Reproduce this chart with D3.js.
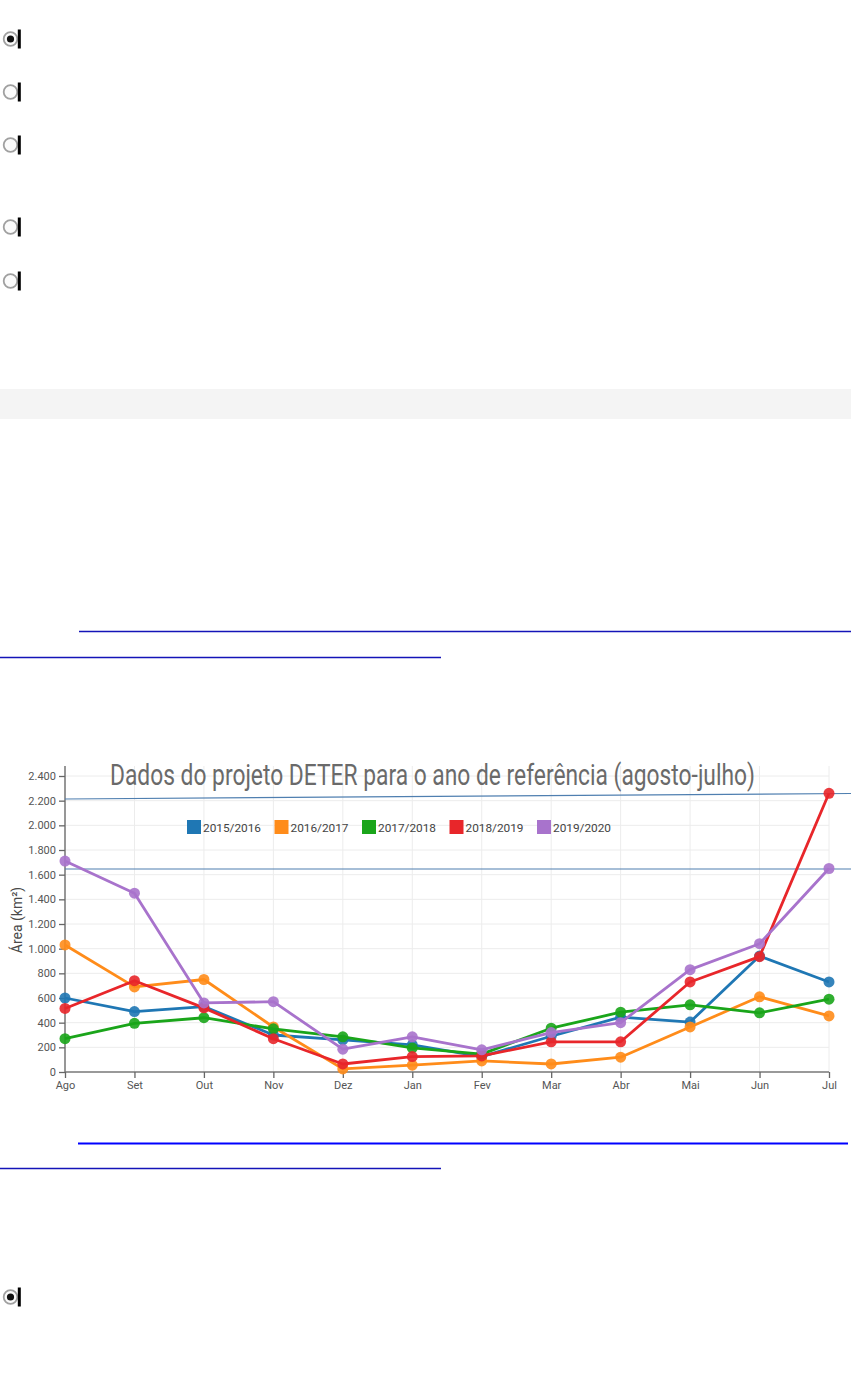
<!DOCTYPE html>
<html><head><meta charset="utf-8">
<script src="https://cdn.jsdelivr.net/npm/d3@7"></script>
<style>html,body{margin:0;padding:0;background:#fff;}svg{display:block;}</style>
</head><body>
<svg id="page" width="851" height="1390"></svg>
<script>
const months = ["Ago","Set","Out","Nov","Dez","Jan","Fev","Mar","Abr","Mai","Jun","Jul"];
const seriesNames = ["2015/2016","2016/2017","2017/2018","2018/2019","2019/2020"];
const seriesColors = ["#1f77b4","#ff8c1a","#1aa51a","#e8262a","#a873cc"];
const s2015 = [600,490,530,300,260,220,125,290,445,405,940,730];
const s2016 = [1030,690,750,365,25,55,90,65,120,365,610,455];
const s2017 = [270,395,440,350,285,195,145,355,485,545,480,590];
const s2018 = [515,740,520,270,65,125,130,245,245,730,935,2260];
const s2019 = [1710,1450,560,570,185,285,180,320,400,830,1040,1650];
const yTicks = [0,200,400,600,800,1000,1200,1400,1600,1800,2000,2200,2400];
const seriesValues = [s2015,s2016,s2017,s2018,s2019];
const radioRows = [39,92,145,227,281,1297];
const radioChecked = [true,false,false,false,false,true];

const svg = d3.select("#page");

// radio buttons
radioRows.forEach((cy,i)=>{
  const g = svg.append("g");
  g.append("circle").attr("cx",10.5).attr("cy",cy).attr("r",6.8)
    .attr("fill","#fbfbfb").attr("stroke","#a0a0a0").attr("stroke-width",1.8);
  if(radioChecked[i]) g.append("circle").attr("cx",10.5).attr("cy",cy).attr("r",3.6).attr("fill","#111");
  g.append("rect").attr("x",17.8).attr("y",cy-9.5).attr("width",3).attr("height",19).attr("fill","#000");
});

// gray band
svg.append("rect").attr("x",0).attr("y",389).attr("width",851).attr("height",30).attr("fill","#f4f4f4");

// link underlines
svg.append("line").attr("x1",79).attr("x2",851).attr("y1",631.5).attr("y2",631.5).attr("stroke","#1414b8").attr("stroke-width",1.3);
svg.append("line").attr("x1",0).attr("x2",441).attr("y1",657.5).attr("y2",657.5).attr("stroke","#1414b8").attr("stroke-width",1.3);
svg.append("line").attr("x1",78).attr("x2",848).attr("y1",1143.5).attr("y2",1143.5).attr("stroke","#0000ff").attr("stroke-width",2);
svg.append("line").attr("x1",0).attr("x2",441).attr("y1",1168.5).attr("y2",1168.5).attr("stroke","#1414b8").attr("stroke-width",1.3);

// chart
const x = d3.scalePoint().domain(months).range([65,829]);
const y = d3.scaleLinear().domain([0,2400]).range([1072,776]);
const chart = svg.append("g");

// grid
chart.append("g").selectAll("line").data(months).join("line")
  .attr("x1",d=>x(d)).attr("x2",d=>x(d)).attr("y1",766).attr("y2",1072)
  .attr("stroke","#ececec").attr("stroke-width",1);
chart.append("g").selectAll("line").data(yTicks.filter(t=>t>0)).join("line")
  .attr("x1",65).attr("x2",829).attr("y1",d=>y(d)).attr("y2",d=>y(d))
  .attr("stroke","#ececec").attr("stroke-width",1);

// axes
const fmt = d => d3.format(",")(d).replace(/,/g,".");
const yAxis = chart.append("g").attr("transform","translate(65,0)")
  .call(d3.axisLeft(y).tickValues(yTicks).tickFormat(fmt).tickSize(6).tickPadding(3));
yAxis.select(".domain").attr("d","M0,766V1072").attr("stroke","#777").attr("stroke-width",1.5);
yAxis.selectAll(".tick line").attr("stroke","#666").attr("stroke-width",1.3);
yAxis.selectAll("text").attr("fill","#555").style("font-family","Roboto, sans-serif").style("font-size","11px");

const xAxis = chart.append("g").attr("transform","translate(0,1072)")
  .call(d3.axisBottom(x).tickSize(6).tickPadding(3));
xAxis.select(".domain").attr("d","M65,0H829").attr("stroke","#777").attr("stroke-width",1.5);
xAxis.selectAll(".tick line").attr("stroke","#666").attr("stroke-width",1.3);
xAxis.selectAll("text").attr("fill","#555").style("font-family","Roboto, sans-serif").style("font-size","11px");

chart.append("text").attr("transform","translate(22,920) rotate(-90)")
  .attr("text-anchor","middle").attr("fill","#4a4a4a")
  .style("font-family","Roboto, sans-serif").style("font-size","14px").text("Área (km²)");

// title (horizontally condensed to the reference width)
const titleG = chart.append("g");
const title = titleG.append("text").attr("x",0).attr("y",0).attr("fill","#6a6a6a")
  .style("font-family","Roboto, sans-serif").style("font-size","29px")
  .text("Dados do projeto DETER para o ano de referência (agosto-julho)");
const tw = title.node().getComputedTextLength();
titleG.attr("transform",`translate(110,785) scale(${645/tw},1)`);

// annotation lines
chart.append("line").attr("x1",65).attr("x2",851).attr("y1",799).attr("y2",793.5).attr("stroke","#4f7fb0").attr("stroke-width",1.2);
chart.append("line").attr("x1",65).attr("x2",851).attr("y1",869).attr("y2",869).attr("stroke","#4f7fb0").attr("stroke-width",1.2);

// legend
const legendX = [187,274.5,362,449.5,537];
const lg = chart.append("g").selectAll("g").data(seriesNames).join("g")
  .attr("transform",(d,i)=>`translate(${legendX[i]},820)`);
lg.append("rect").attr("width",14).attr("height",14).attr("fill",(d,i)=>seriesColors[i]);
lg.append("text").attr("x",16).attr("y",11.5).attr("fill","#444")
  .attr("textLength",58).attr("lengthAdjust","spacingAndGlyphs")
  .style("font-family","Roboto, sans-serif").style("font-size","11px").text(d=>d);

// series
const line = d3.line().x((d,i)=>x(months[i])).y(d=>y(d));
seriesValues.forEach((vals,si)=>{
  const g = chart.append("g");
  g.append("path").datum(vals).attr("d",line).attr("fill","none")
    .attr("stroke",seriesColors[si]).attr("stroke-width",2.8).attr("stroke-linejoin","round");
  g.selectAll("circle").data(vals).join("circle")
    .attr("cx",(d,i)=>x(months[i])).attr("cy",d=>y(d)).attr("r",5.5)
    .attr("fill",seriesColors[si]).attr("opacity",0.9);
});
</script>
</body></html>
